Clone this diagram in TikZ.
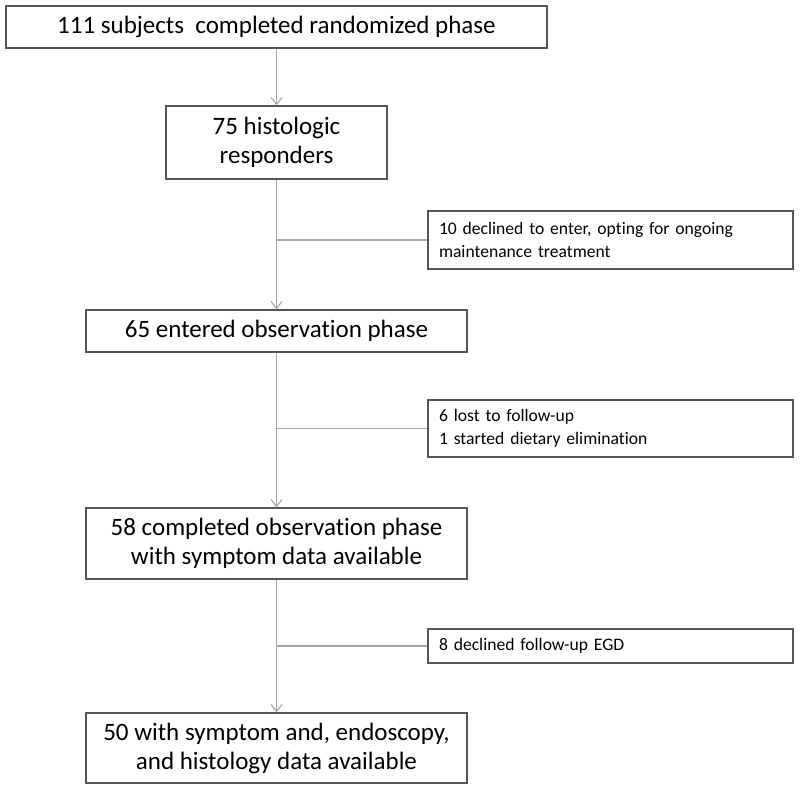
\documentclass[tikz,border=0pt]{standalone}
\usepackage{fontspec}
\setmainfont{Carlito}[Ligatures=NoCommon]
\usetikzlibrary{arrows.meta}
\definecolor{boxline}{HTML}{555555}
\definecolor{connline}{HTML}{A6A6A6}
\tikzset{
  mainbox/.style={draw=boxline, line width=1.3pt, align=center, inner sep=0pt,
    font=\fontsize{25}{29}\selectfont},
  sidebox/.style={draw=boxline, line width=1.3pt, align=left, inner xsep=11pt, inner ysep=0pt,
    text width=343pt, minimum width=365pt,
    font=\fontsize{17.6}{23}\selectfont},
  conn/.style={draw=connline, line width=1.1pt},
  arrowconn/.style={conn, -{Straight Barb[length=7pt,width=11pt,line width=1.1pt]}}
}
\begin{document}
\begin{tikzpicture}[x=1pt,y=-1pt]
\useasboundingbox[fill=white] (0,0) rectangle (800,790);
\node[mainbox, minimum width=541pt, minimum height=42pt] (b1) at (276.5,27) {111 subjects\ \ completed randomized phase};
\node[mainbox, minimum width=221pt, minimum height=73pt] (b2) at (276.5,142.5) {75 histologic\\responders};
\node[mainbox, minimum width=381pt, minimum height=42pt] (b3) at (276.5,331) {65 entered observation phase};
\node[mainbox, minimum width=381pt, minimum height=71pt] (b4) at (276.5,543.5) {58 completed observation phase\\with symptom data available};
\node[mainbox, minimum width=381pt, minimum height=70pt] (b5) at (276.5,748) {50 with symptom and, endoscopy,\\and histology data available};
\node[sidebox, minimum height=58pt] (s1) at (610.5,240) {10 declined to enter, opting for ongoing\\maintenance treatment};
\node[sidebox, minimum height=57pt] (s2) at (610.5,428.5) {6 lost to follow-up\\1 started dietary elimination};
\node[sidebox, minimum height=34pt] (s3) at (610.5,646) {8 declined follow-up EGD};
\coordinate (j1) at (276.5,240);
\coordinate (j2) at (276.5,428.5);
\coordinate (j3) at (276.5,646);
\draw[arrowconn] (b1.south) -- (b2.north);
\draw[arrowconn] (b2.south) -- (b3.north);
\draw[arrowconn] (b3.south) -- (b4.north);
\draw[arrowconn] (b4.south) -- (b5.north);
\draw[conn] (j1) -- (s1.west);
\draw[conn] (j2) -- (s2.west);
\draw[conn] (j3) -- (s3.west);
\end{tikzpicture}
\end{document}
